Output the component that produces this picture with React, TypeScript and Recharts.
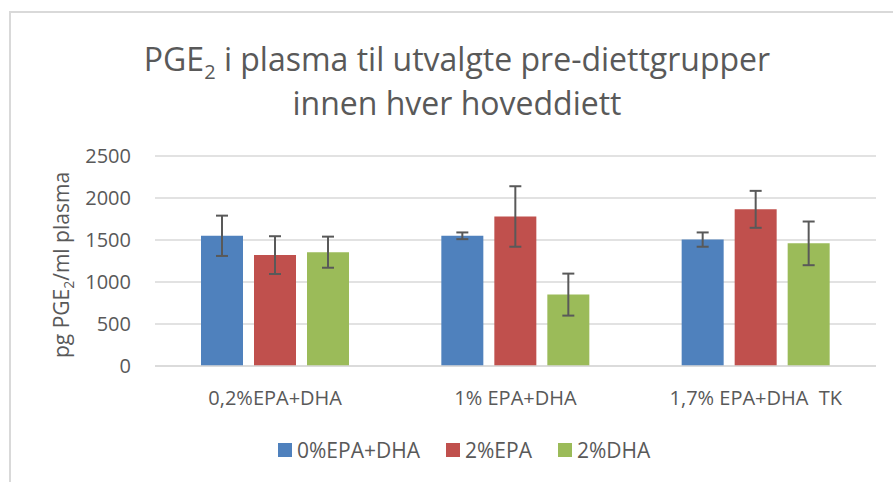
import React from 'react';
import { BarChart, Bar, XAxis, YAxis, CartesianGrid, ErrorBar, Legend } from 'recharts';

const FONT = '"Open Sans", sans-serif';
const TXT = '#595959';

const categories = ['0,2%EPA+DHA', '1% EPA+DHA', '1,7% EPA+DHA  TK'];
const seriesNames = ['0%EPA+DHA', '2%EPA', '2%DHA'];
const seriesColors = ['#4F81BD', '#C0504D', '#9BBB59'];
const epa0Values = [1550, 1550, 1505];
const epa0Errors = [240, 40, 85];
const epa2Values = [1320, 1780, 1865];
const epa2Errors = [225, 360, 220];
const dha2Values = [1355, 850, 1460];
const dha2Errors = [185, 250, 260];
const yTicks = [0, 500, 1000, 1500, 2000, 2500];

const data = categories.map((c, i) => ({
  name: c,
  s0: epa0Values[i],
  e0: epa0Errors[i],
  s1: epa2Values[i],
  e1: epa2Errors[i],
  s2: dha2Values[i],
  e2: dha2Errors[i],
}));

const XTick = (props: any) => {
  const { x, y, payload } = props;
  return (
    <text x={x} y={y} dy="0.71em" textAnchor="middle" fill={TXT} fontSize={20} fontFamily={FONT} style={{ whiteSpace: 'pre' }}>
      {payload.value}
    </text>
  );
};

const renderLegend = () => (
  <div style={{ display: 'flex', alignItems: 'center', fontFamily: FONT, fontSize: 21, color: TXT, whiteSpace: 'nowrap' }}>
    {seriesNames.map((n, i) => (
      <div key={n} style={{ display: 'flex', alignItems: 'center', marginRight: i < seriesNames.length - 1 ? 26 : 0 }}>
        <span style={{ display: 'inline-block', width: 14, height: 14, background: seriesColors[i], marginRight: 5 }} />
        <span>{n}</span>
      </div>
    ))}
  </div>
);

export default function App() {
  return (
    <div style={{ position: 'absolute', left: 0, top: 0, width: 893, height: 482, overflow: 'hidden', background: '#fff' }}>
      <div style={{ position: 'absolute', left: 9, top: 11, width: 884, height: 471, boxSizing: 'border-box', borderLeft: '2px solid #d9d9d9', borderTop: '2px solid #d9d9d9' }} />
      <div style={{ position: 'absolute', left: 0, top: 37, width: 914, textAlign: 'center', fontFamily: FONT, fontSize: 32, lineHeight: '44px', color: TXT }}>
        PGE<span style={{ fontSize: 20, position: 'relative', top: 8, lineHeight: 0 }}>2</span> i plasma til utvalgte pre-diettgrupper
        <br />
        innen hver hoveddiett
      </div>
      <div style={{ position: 'absolute', left: 61, top: 265, transform: 'translate(-50%, -50%) rotate(-90deg)', fontFamily: FONT, fontSize: 21, color: TXT, whiteSpace: 'nowrap', lineHeight: '28px' }}>
        pg PGE<span style={{ fontSize: 14, position: 'relative', top: 5, lineHeight: 0 }}>2</span>/ml plasma
      </div>
      <div style={{ position: 'absolute', left: 0, top: 0 }}>
        <BarChart width={893} height={482} data={data} margin={{ top: 156, right: 17, bottom: 76, left: 95 }} barSize={42} barGap={11}>
          <CartesianGrid vertical={false} stroke="#d9d9d9" strokeWidth={1.5} />
          <XAxis dataKey="name" height={40} axisLine={{ stroke: '#d9d9d9', strokeWidth: 1.5 }} tickLine={false} tickSize={0} tickMargin={25} tick={<XTick />} interval={0} />
          <YAxis width={60} domain={[0, 2500]} ticks={yTicks} axisLine={false} tickLine={false} tickSize={0} tickMargin={24} tick={{ fill: TXT, fontSize: 20, fontFamily: FONT }} />
          <Legend layout="horizontal" verticalAlign="middle" align="center" content={renderLegend} wrapperStyle={{ left: 278, top: 436, width: 'auto' }} />
          <Bar dataKey="s0" name={seriesNames[0]} fill={seriesColors[0]} isAnimationActive={false}>
            <ErrorBar dataKey="e0" width={6} stroke={TXT} strokeWidth={2} isAnimationActive={false} />
          </Bar>
          <Bar dataKey="s1" name={seriesNames[1]} fill={seriesColors[1]} isAnimationActive={false}>
            <ErrorBar dataKey="e1" width={6} stroke={TXT} strokeWidth={2} isAnimationActive={false} />
          </Bar>
          <Bar dataKey="s2" name={seriesNames[2]} fill={seriesColors[2]} isAnimationActive={false}>
            <ErrorBar dataKey="e2" width={6} stroke={TXT} strokeWidth={2} isAnimationActive={false} />
          </Bar>
        </BarChart>
      </div>
    </div>
  );
}
